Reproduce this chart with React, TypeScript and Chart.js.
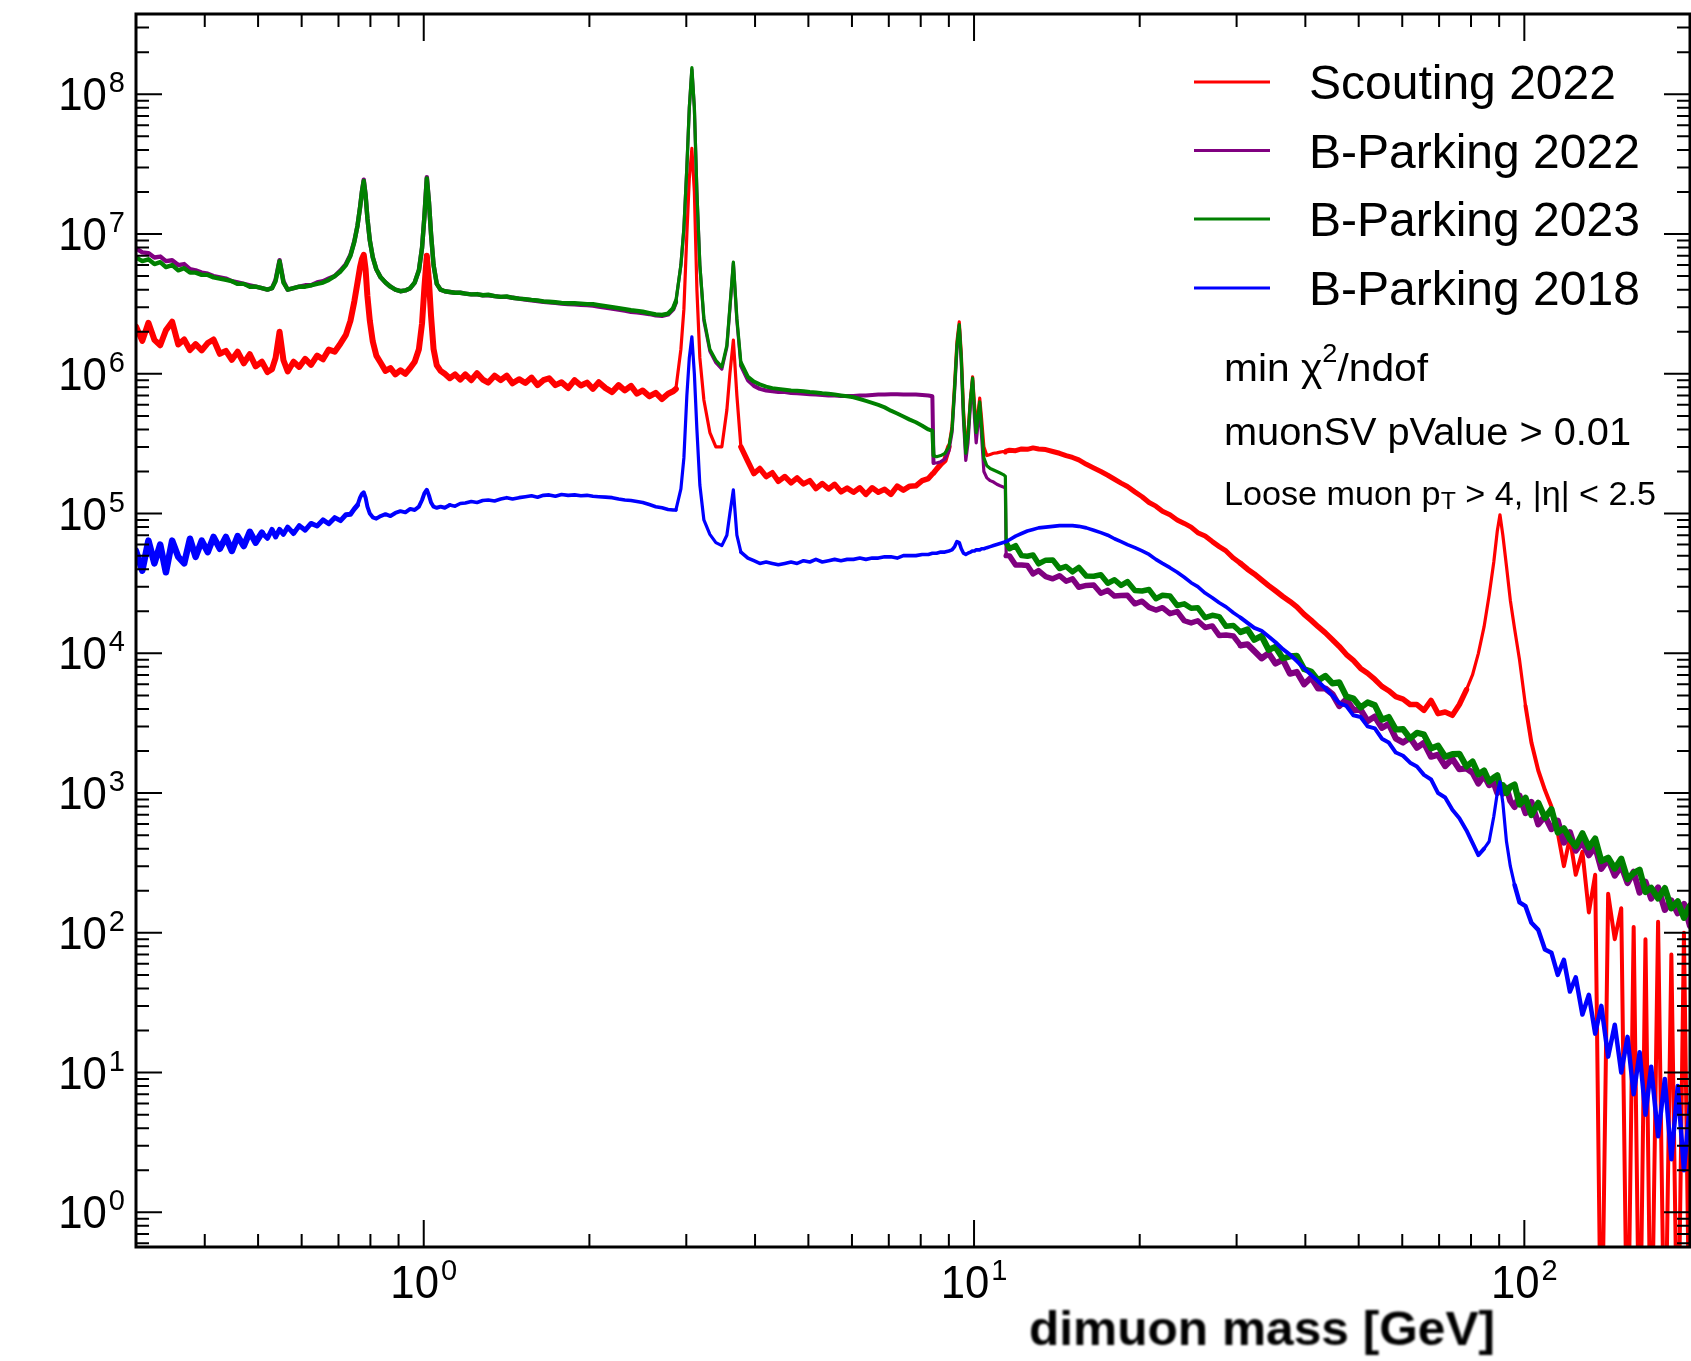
import { useEffect, useRef } from "react";
import { Chart, registerables } from "chart.js";

Chart.register(...registerables);

// ---------------------------------------------------------------------------
// Dimuon invariant-mass spectra (events per bin), shared mass grid in GeV.
// ---------------------------------------------------------------------------
const massGeV = [
  0.300, 0.308, 0.316, 0.324, 0.332, 0.340, 0.349, 0.358, 0.367, 0.376,
  0.385, 0.395, 0.405, 0.415, 0.426, 0.437, 0.448, 0.459, 0.471, 0.483,
  0.495, 0.508, 0.520, 0.530, 0.538, 0.547, 0.556, 0.566, 0.580, 0.594,
  0.609, 0.624, 0.640, 0.656, 0.672, 0.689, 0.706, 0.722, 0.736, 0.748,
  0.758, 0.766, 0.772, 0.778, 0.784, 0.790, 0.798, 0.808, 0.820, 0.835,
  0.852, 0.870, 0.888, 0.907, 0.926, 0.945, 0.963, 0.980, 0.993, 1.003,
  1.013, 1.022, 1.031, 1.042, 1.056, 1.073, 1.092, 1.115, 1.140, 1.165,
  1.19, 1.22, 1.25, 1.28, 1.31, 1.345, 1.38, 1.415, 1.45, 1.49,
  1.53, 1.57, 1.61, 1.65, 1.69, 1.735, 1.78, 1.83, 1.88, 1.93,
  1.98, 2.03, 2.08, 2.14, 2.2, 2.26, 2.32, 2.38, 2.44, 2.5,
  2.57, 2.64, 2.71, 2.78, 2.84, 2.872, 2.933, 2.97, 3.007, 3.038,
  3.071, 3.103, 3.136, 3.175, 3.229, 3.311, 3.395, 3.481, 3.555, 3.6,
  3.653, 3.707, 3.77, 3.882, 3.98, 4.08, 4.19, 4.3, 4.41, 4.53,
  4.65, 4.77, 4.9, 5.03, 5.16, 5.3, 5.44, 5.58, 5.73, 5.88,
  6.04, 6.2, 6.36, 6.53, 6.7, 6.88, 7.06, 7.25, 7.44, 7.64,
  7.84, 8.05, 8.26, 8.4, 8.44, 8.55, 8.7, 8.85, 9.0, 9.12,
  9.22, 9.31, 9.4, 9.48, 9.57, 9.66, 9.75, 9.85, 9.94, 10.02,
  10.09, 10.17, 10.24, 10.32, 10.42, 10.55, 10.7, 10.85, 11.0, 11.15,
  11.3, 11.4, 11.44, 11.6, 11.9, 12.2, 12.5, 12.8, 13.1, 13.5,
  13.9, 14.3, 14.7, 15.1, 15.5, 16.0, 16.5, 17.0, 17.5, 18.0,
  18.5, 19.0, 19.6, 20.2, 20.8, 21.4, 22.0, 22.7, 23.4, 24.1,
  24.8, 25.5, 26.3, 27.1, 27.9, 28.7, 29.6, 30.5, 31.4, 32.3,
  33.3, 34.3, 35.3, 36.4, 37.5, 38.6, 39.8, 41.0, 42.2, 43.5,
  44.8, 46.1, 47.5, 48.9, 50.4, 51.9, 53.5, 55.1, 56.7, 58.4,
  60.2, 62.0, 63.8, 65.7, 67.7, 69.7, 71.8, 74.0, 76.2, 78.5,
  80.5, 82.5, 84.5, 86.3, 88.0, 89.3, 90.3, 91.4, 92.8, 94.3,
  96.0, 98.0, 100.5, 103.0, 106.0, 109.0, 112.0, 115.0, 118.0, 121.0,
  124.0, 127.5, 131.0, 134.5, 138.0, 142.0, 146.0, 150.0, 154.0, 158.0,
  162, 166, 170, 175, 180, 185, 190, 195, 200,
];

const scouting2022 = [
  2.18e6, 1.72e6, 2.32e6, 1.75e6, 1.6e6, 2.05e6, 2.36e6, 1.62e6, 1.76e6, 1.48e6,
  1.63e6, 1.47e6, 1.66e6, 1.76e6, 1.39e6, 1.46e6, 1.26e6, 1.44e6, 1.19e6, 1.38e6,
  1.13e6, 1.22e6, 1.03e6, 1.08e6, 1.3e6, 2.0e6, 1.25e6, 1.04e6, 1.22e6, 1.12e6,
  1.28e6, 1.16e6, 1.35e6, 1.27e6, 1.49e6, 1.44e6, 1.65e6, 1.9e6, 2.4e6, 3.3e6,
  4.5e6, 5.8e6, 6.6e6, 7.1e6, 5.6e6, 3.6e6, 2.4e6, 1.7e6, 1.35e6, 1.2e6,
  1.05e6, 1.1e6, 9.9e5, 1.06e6, 1.0e6, 1.1e6, 1.22e6, 1.5e6, 2.3e6, 4.2e6,
  7.0e6, 4.6e6, 2.6e6, 1.5e6, 1.15e6, 1.05e6, 1.0e6, 9.3e5, 9.9e5, 9.1e5,
  9.9e5, 9.0e5, 1.01e6, 9.1e5, 8.65e5, 9.7e5, 9.0e5, 9.7e5, 8.55e5, 9.15e5,
  8.6e5, 9.4e5, 8.3e5, 9.0e5, 9.3e5, 8.3e5, 8.7e5, 7.9e5, 9.0e5, 8.25e5,
  8.65e5, 7.8e5, 8.7e5, 7.9e5, 7.4e5, 8.3e5, 7.6e5, 8.2e5, 7.2e5, 7.6e5,
  6.9e5, 7.3e5, 6.6e5, 7.2e5, 7.5e5, 7.8e5, 1.5e6, 2.9e6, 1.0e7, 2.5e7,
  4.1e7, 2.0e7, 4.0e6, 1.3e6, 6.5e5, 3.8e5, 3.0e5, 3.0e5, 5.5e5, 1.0e6,
  1.74e6, 7.0e5, 3.0e5, 2.36e5, 1.93e5, 2.1e5, 1.84e5, 1.96e5, 1.7e5, 1.84e5,
  1.66e5, 1.8e5, 1.63e5, 1.72e5, 1.51e5, 1.64e5, 1.5e5, 1.62e5, 1.43e5, 1.52e5,
  1.42e5, 1.53e5, 1.37e5, 1.53e5, 1.42e5, 1.49e5, 1.37e5, 1.57e5, 1.47e5, 1.57e5,
  1.58e5, 1.72e5, 1.78e5, 1.92e5, 1.95e5, 2.08e5, 2.25e5, 2.4e5, 3.0e5, 4.2e5,
  8.5e5, 1.7e6, 2.35e6, 1.4e6, 5.5e5, 3.0e5, 3.8e5, 6.6e5, 9.5e5, 6.0e5,
  4.2e5, 5.3e5, 6.7e5, 4.8e5, 3.0e5, 2.6e5, 2.65e5, 2.7e5, 2.72e5, 2.75e5,
  2.78e5, 2.76e5, 2.8e5, 2.84e5, 2.82e5, 2.9e5, 2.88e5, 2.95e5, 2.9e5, 2.87e5,
  2.78e5, 2.7e5, 2.6e5, 2.52e5, 2.42e5, 2.25e5, 2.12e5, 2.0e5, 1.88e5, 1.76e5,
  1.65e5, 1.56e5, 1.43e5, 1.32e5, 1.2e5, 1.13e5, 1.04e5, 9.8e4, 9.0e4, 8.5e4,
  8.0e4, 7.3e4, 6.9e4, 6.3e4, 5.8e4, 5.4e4, 4.8e4, 4.4e4, 4.0e4, 3.7e4,
  3.35e4, 3.05e4, 2.8e4, 2.55e4, 2.35e4, 2.15e4, 1.9e4, 1.72e4, 1.55e4, 1.4e4,
  1.25e4, 1.12e4, 9.8e3, 8.9e3, 7.8e3, 7.2e3, 6.5e3, 5.8e3, 5.4e3, 4.9e3,
  4.7e3, 4.3e3, 4.3e3, 3.9e3, 4.6e3, 3.7e3, 3.8e3, 3.6e3, 4.3e3, 5.5e3,
  7.0e3, 1.0e4, 1.55e4, 2.6e4, 4.5e4, 7.5e4, 9.8e4, 7.0e4, 4.2e4, 2.4e4,
  1.5e4, 9.0e3, 4.2e3, 2.3e3, 1.45e3, 1.05e3, 800, 520, 300, 480,
  260, 380, 140, 260, 0, 190, 90, 150, 0, 110,
  0, 90, 0, 120, 0, 70, 0, 100, 0,
];

const bParking2022 = [
  7.9e6, 7.4e6, 7.3e6, 6.8e6, 6.9e6, 6.4e6, 6.5e6, 6.0e6, 6.1e6, 5.6e6,
  5.5e6, 5.3e6, 5.2e6, 5.0e6, 4.9e6, 4.8e6, 4.6e6, 4.5e6, 4.4e6, 4.3e6,
  4.2e6, 4.1e6, 4.0e6, 4.1e6, 4.7e6, 6.5e6, 4.6e6, 4.0e6, 4.1e6, 4.2e6,
  4.3e6, 4.3e6, 4.5e6, 4.6e6, 4.8e6, 5.0e6, 5.5e6, 6.1e6, 7.1e6, 8.9e6,
  1.15e7, 1.55e7, 2.0e7, 2.45e7, 1.9e7, 1.3e7, 9.0e6, 6.8e6, 5.6e6, 4.9e6,
  4.5e6, 4.2e6, 4.0e6, 3.9e6, 3.95e6, 4.1e6, 4.5e6, 5.5e6, 8.0e6, 1.35e7,
  2.55e7, 1.7e7, 1.0e7, 6.0e6, 4.4e6, 4.0e6, 3.9e6, 3.85e6, 3.8e6, 3.8e6,
  3.75e6, 3.7e6, 3.7e6, 3.65e6, 3.65e6, 3.6e6, 3.55e6, 3.55e6, 3.5e6, 3.45e6,
  3.4e6, 3.36e6, 3.32e6, 3.28e6, 3.25e6, 3.22e6, 3.18e6, 3.15e6, 3.14e6, 3.12e6,
  3.1e6, 3.08e6, 3.03e6, 2.98e6, 2.93e6, 2.88e6, 2.83e6, 2.78e6, 2.75e6, 2.72e6,
  2.68e6, 2.62e6, 2.6e6, 2.66e6, 2.9e6, 3.25e6, 6.0e6, 1.1e7, 3.0e7, 8.0e7,
  1.5e8, 8.0e7, 2.0e7, 6.0e6, 2.4e6, 1.45e6, 1.2e6, 1.08e6, 1.55e6, 2.9e6,
  6.2e6, 2.4e6, 1.15e6, 9.0e5, 8.2e5, 7.8e5, 7.6e5, 7.5e5, 7.4e5, 7.4e5,
  7.3e5, 7.25e5, 7.2e5, 7.15e5, 7.1e5, 7.05e5, 7.0e5, 7.0e5, 6.95e5, 6.95e5,
  6.95e5, 7.0e5, 7.0e5, 7.05e5, 7.1e5, 7.1e5, 7.15e5, 7.15e5, 7.1e5, 7.1e5,
  7.1e5, 7.05e5, 7.0e5, 6.9e5, 2.3e5, 2.3e5, 2.35e5, 2.45e5, 2.8e5, 3.8e5,
  7.5e5, 1.5e6, 2.2e6, 1.2e6, 4.6e5, 2.4e5, 3.2e5, 6.0e5, 9.0e5, 4.8e5,
  3.2e5, 4.4e5, 5.8e5, 3.6e5, 2.0e5, 1.8e5, 1.72e5, 1.68e5, 1.62e5, 1.58e5,
  1.55e5, 1.52e5, 5.0e4, 4.98e4, 4.28e4, 4.29e4, 4.25e4, 3.7e4, 3.91e4, 3.54e4,
  3.41e4, 3.59e4, 3.28e4, 3.41e4, 2.97e4, 3.06e4, 3.08e4, 2.69e4, 2.82e4, 2.57e4,
  2.59e4, 2.6e4, 2.26e4, 2.36e4, 2.13e4, 2.04e4, 2.12e4, 1.92e4, 1.99e4, 1.71e4,
  1.65e4, 1.71e4, 1.53e4, 1.57e4, 1.34e4, 1.35e4, 1.33e4, 1.14e4, 1.16e4, 1.04e4,
  9.2e3, 1.0e4, 8.45e3, 9.0e3, 7.15e3, 7.35e3, 6.0e3, 6.7e3, 5.6e3, 5.6e3,
  5.1e3, 4.2e3, 4.7e3, 3.93e3, 3.95e3, 3.27e3, 3.53e3, 2.93e3, 3.13e3, 2.46e3,
  2.3e3, 2.49e3, 2.11e3, 2.29e3, 1.82e3, 1.88e3, 1.56e3, 1.76e3, 1.48e3, 1.5e3,
  1.4e3, 1.17e3, 1.34e3, 1.14e3, 1.18e3, 1.0e3, 1.13e3, 990, 1.09e3, 880,
  796, 958, 720, 864, 598, 684, 552, 633, 442, 524,
  387, 445, 359, 413, 287, 337, 257, 302, 227, 273,
  194, 232, 176, 211, 146, 170, 138, 161, 112,
];

const bParking2023 = [
  6.8e6, 6.4e6, 6.6e6, 6.1e6, 6.3e6, 5.8e6, 6.0e6, 5.5e6, 5.7e6, 5.3e6,
  5.3e6, 5.1e6, 5.1e6, 4.9e6, 4.8e6, 4.7e6, 4.6e6, 4.4e6, 4.4e6, 4.2e6,
  4.2e6, 4.1e6, 4.0e6, 4.1e6, 4.6e6, 6.4e6, 4.5e6, 4.0e6, 4.1e6, 4.2e6,
  4.2e6, 4.3e6, 4.4e6, 4.5e6, 4.7e6, 5.0e6, 5.4e6, 6.0e6, 7.0e6, 8.8e6,
  1.15e7, 1.55e7, 2.0e7, 2.4e7, 1.9e7, 1.3e7, 9.0e6, 6.8e6, 5.6e6, 4.9e6,
  4.5e6, 4.2e6, 4.0e6, 3.9e6, 3.95e6, 4.1e6, 4.5e6, 5.5e6, 8.0e6, 1.35e7,
  2.5e7, 1.7e7, 1.0e7, 6.0e6, 4.4e6, 4.0e6, 3.9e6, 3.85e6, 3.8e6, 3.8e6,
  3.75e6, 3.7e6, 3.72e6, 3.65e6, 3.68e6, 3.6e6, 3.55e6, 3.58e6, 3.5e6, 3.45e6,
  3.42e6, 3.38e6, 3.35e6, 3.3e6, 3.28e6, 3.25e6, 3.22e6, 3.2e6, 3.2e6, 3.18e6,
  3.15e6, 3.15e6, 3.1e6, 3.05e6, 3.0e6, 2.95e6, 2.9e6, 2.85e6, 2.82e6, 2.78e6,
  2.72e6, 2.66e6, 2.64e6, 2.7e6, 2.95e6, 3.3e6, 6.0e6, 1.1e7, 3.0e7, 8.0e7,
  1.55e8, 8.0e7, 2.0e7, 6.0e6, 2.5e6, 1.5e6, 1.25e6, 1.12e6, 1.6e6, 3.0e6,
  6.3e6, 2.5e6, 1.2e6, 9.5e5, 8.8e5, 8.4e5, 8.1e5, 7.9e5, 7.8e5, 7.7e5,
  7.6e5, 7.55e5, 7.5e5, 7.4e5, 7.35e5, 7.25e5, 7.2e5, 7.1e5, 7.0e5, 6.9e5,
  6.8e5, 6.6e5, 6.4e5, 6.2e5, 6.0e5, 5.75e5, 5.45e5, 5.2e5, 4.95e5, 4.7e5,
  4.5e5, 4.25e5, 4.0e5, 3.9e5, 2.6e5, 2.55e5, 2.6e5, 2.7e5, 3.0e5, 4.0e5,
  8.0e5, 1.6e6, 2.25e6, 1.3e6, 5.0e5, 2.7e5, 3.6e5, 6.5e5, 9.3e5, 5.5e5,
  3.8e5, 5.0e5, 6.3e5, 4.2e5, 2.5e5, 2.2e5, 2.1e5, 2.05e5, 2.0e5, 1.95e5,
  1.9e5, 1.85e5, 6.2e4, 5.6e4, 5.9e4, 5.0e4, 4.95e4, 5.05e4, 4.37e4, 4.64e4,
  4.66e4, 4.04e4, 4.18e4, 3.83e4, 4.12e4, 3.57e4, 3.56e4, 3.65e4, 3.17e4, 3.36e4,
  3.06e4, 3.26e4, 2.81e4, 2.79e4, 2.86e4, 2.46e4, 2.6e4, 2.57e4, 2.2e4, 2.26e4,
  2.1e4, 2.12e4, 1.8e4, 1.87e4, 1.83e4, 1.56e4, 1.58e4, 1.42e4, 1.48e4, 1.25e4,
  1.33e4, 1.06e4, 1.11e4, 9.2e3, 9.5e3, 9.6e3, 7.7e3, 7.4e3, 6.4e3, 6.9e3,
  6.1e3, 6.2e3, 4.9e3, 4.75e3, 4.1e3, 4.45e3, 4.25e3, 3.35e3, 3.5e3, 2.85e3,
  2.87e3, 2.46e3, 2.7e3, 2.62e3, 2.09e3, 2.18e3, 1.82e3, 1.9e3, 1.91e3, 1.55e3,
  1.68e3, 1.36e3, 1.45e3, 1.21e3, 1.29e3, 1.34e3, 1.13e3, 1.14e3, 1.0e3, 1.11e3,
  1.15e3, 827, 924, 697, 851, 665, 767, 522, 560, 468,
  417, 515, 409, 472, 326, 345, 288, 339, 242, 268,
  283, 196, 210, 176, 209, 150, 168, 128, 157,
];

const bParking2018 = [
  5.4e4, 3.9e4, 6.4e4, 4.4e4, 6.0e4, 3.8e4, 6.4e4, 4.9e4, 4.4e4, 6.6e4,
  4.9e4, 6.4e4, 5.3e4, 6.8e4, 5.6e4, 6.8e4, 5.4e4, 6.9e4, 5.85e4, 7.4e4,
  6.2e4, 7.3e4, 6.65e4, 7.7e4, 6.8e4, 7.7e4, 7.1e4, 8.0e4, 7.2e4, 8.2e4,
  7.6e4, 8.5e4, 8.15e4, 9.0e4, 8.45e4, 9.35e4, 8.9e4, 9.8e4, 9.9e4, 1.08e5,
  1.15e5, 1.3e5, 1.38e5, 1.42e5, 1.3e5, 1.12e5, 1.0e5, 9.4e4, 9.2e4, 9.6e4,
  9.9e4, 9.6e4, 1.01e5, 1.04e5, 1.02e5, 1.08e5, 1.06e5, 1.12e5, 1.25e5, 1.4e5,
  1.48e5, 1.35e5, 1.2e5, 1.12e5, 1.1e5, 1.12e5, 1.1e5, 1.15e5, 1.13e5, 1.18e5,
  1.19e5, 1.22e5, 1.2e5, 1.24e5, 1.25e5, 1.23e5, 1.27e5, 1.3e5, 1.27e5, 1.3e5,
  1.32e5, 1.34e5, 1.31e5, 1.35e5, 1.36e5, 1.33e5, 1.37e5, 1.35e5, 1.36e5, 1.34e5,
  1.35e5, 1.33e5, 1.32e5, 1.31e5, 1.3e5, 1.27e5, 1.25e5, 1.24e5, 1.22e5, 1.2e5,
  1.16e5, 1.12e5, 1.1e5, 1.07e5, 1.06e5, 1.06e5, 1.5e5, 2.5e5, 7.0e5, 1.3e6,
  1.84e6, 1.0e6, 4.0e5, 1.6e5, 9.0e4, 7.1e4, 6.2e4, 5.9e4, 7.0e4, 1.0e5,
  1.48e5, 7.0e4, 5.3e4, 4.8e4, 4.6e4, 4.4e4, 4.5e4, 4.4e4, 4.3e4, 4.4e4,
  4.5e4, 4.4e4, 4.6e4, 4.5e4, 4.7e4, 4.5e4, 4.6e4, 4.7e4, 4.6e4, 4.7e4,
  4.7e4, 4.8e4, 4.7e4, 4.8e4, 4.8e4, 4.9e4, 4.9e4, 4.8e4, 5.0e4, 5.0e4,
  5.0e4, 5.1e4, 5.1e4, 5.2e4, 5.2e4, 5.2e4, 5.3e4, 5.3e4, 5.4e4, 5.5e4,
  5.8e4, 6.3e4, 6.2e4, 5.6e4, 5.2e4, 5.1e4, 5.2e4, 5.3e4, 5.4e4, 5.4e4,
  5.5e4, 5.5e4, 5.5e4, 5.6e4, 5.6e4, 5.7e4, 5.8e4, 5.9e4, 6.0e4, 6.1e4,
  6.2e4, 6.3e4, 6.3e4, 6.5e4, 6.9e4, 7.2e4, 7.5e4, 7.7e4, 7.9e4, 8.0e4,
  8.1e4, 8.2e4, 8.2e4, 8.2e4, 8.1e4, 7.9e4, 7.6e4, 7.3e4, 7.0e4, 6.6e4,
  6.3e4, 6.0e4, 5.7e4, 5.4e4, 5.1e4, 4.7e4, 4.4e4, 4.1e4, 3.8e4, 3.5e4,
  3.2e4, 3.0e4, 2.7e4, 2.5e4, 2.3e4, 2.15e4, 1.95e4, 1.8e4, 1.65e4, 1.52e4,
  1.45e4, 1.32e4, 1.2e4, 1.07e4, 9.8e3, 8.8e3, 7.8e3, 7.0e3, 6.3e3, 5.6e3,
  5.0e3, 4.4e3, 4.2e3, 3.6e3, 3.5e3, 3.0e3, 2.9e3, 2.45e3, 2.3e3, 1.95e3,
  1.85e3, 1.65e3, 1.55e3, 1.35e3, 1.25e3, 1.0e3, 930, 760, 660, 540,
  440, 360, 400, 450, 680, 1.0e3, 1.2e3, 850, 450, 300,
  220, 165, 155, 118, 105, 76, 72, 50, 64, 38,
  48, 26, 36, 19, 30, 13, 22, 10, 18, 7,
  14, 5, 11, 3.5, 9, 2.4, 8, 2, 6,
];

const seriesLabels = ["Scouting 2022", "B-Parking 2022", "B-Parking 2023", "B-Parking 2018"];
const seriesCounts = [scouting2022, bParking2022, bParking2023, bParking2018];
const seriesColors = ["#ff0000", "#800080", "#008000", "#0000ff"];

// Axis ranges and tick marks
const massRange = [0.3, 200];
const countRange = [0.5647, 3.755e8];
const xMajorTicks = [1, 10, 100];
const xMinorTicks = [0.4, 0.5, 0.6, 0.7, 0.8, 0.9, 2, 3, 4, 5, 6, 7, 8, 9, 20, 30, 40, 50, 60, 70, 80, 90];
const yMajorExponents = [0, 1, 2, 3, 4, 5, 6, 7, 8];

const xAxisTitle = "dimuon mass [GeV]";

// ---------------------------------------------------------------------------
const W = 1691;
const H = 1361;
const FONT = '"Liberation Sans", Arial, Helvetica, sans-serif';

// Stroke width per mass range [from GeV, px]: fine-binned, fluctuating stretches are drawn heavier.
const strokeBands: [number, number][][] = [
  [[0.3, 6], [2.85, 3.2], [3.75, 5.5], [8.9, 3.2], [11.4, 5], [30, 5.5], [78, 3.2], [100, 4]],
  [[0.3, 4.4], [2.85, 3.2], [3.75, 4], [8.43, 3.2], [11.42, 5.5], [30, 6.2]],
  [[0.3, 4.4], [2.85, 3.2], [3.75, 4], [8.43, 3.2], [11.42, 5.5], [30, 6.2]],
  [[0.3, 6.5], [0.5, 5], [0.75, 4], [1.1, 3.6], [2.85, 3.2], [3.75, 3.6], [30, 4], [84, 3.2], [96, 4.5]],
];

function strokeAt(series: number, mass: number) {
  let w = 3.2;
  for (const [from, width] of strokeBands[series]) if (mass >= from) w = width;
  return w;
}

// Empty bins are taken down past the bottom of the frame, as in a log-scale histogram.
const emptyBinFloor = countRange[0] / 10;

type Seg = { text: string; scale?: number; shift?: number };

function drawRich(
  ctx: CanvasRenderingContext2D,
  segs: Seg[],
  x: number,
  baseline: number,
  size: number,
  width: number,
  weight = "",
  align: "left" | "center" = "left",
) {
  const fontFor = (s: Seg) => `${weight} ${Math.round(size * (s.scale ?? 1))}px ${FONT}`.trim();
  let natural = 0;
  for (const s of segs) {
    ctx.font = fontFor(s);
    natural += ctx.measureText(s.text).width;
  }
  const sx = width > 0 ? width / natural : 1;
  const left = align === "center" ? x - (natural * sx) / 2 : x;
  ctx.save();
  ctx.translate(left, baseline);
  ctx.scale(sx, 1);
  ctx.textAlign = "left";
  ctx.textBaseline = "alphabetic";
  let cx = 0;
  for (const s of segs) {
    ctx.font = fontFor(s);
    ctx.fillText(s.text, cx, s.shift ?? 0);
    cx += ctx.measureText(s.text).width;
  }
  ctx.restore();
}

// "10" with a raised exponent
function drawPowerLabel(
  ctx: CanvasRenderingContext2D,
  exp: number,
  anchorX: number,
  baseline: number,
  anchor: "right" | "center",
) {
  const baseSize = 46;
  const baseScale = 0.95;
  const expSize = 29;
  ctx.save();
  ctx.textAlign = "left";
  ctx.textBaseline = "alphabetic";
  ctx.font = `${baseSize}px ${FONT}`;
  const bw = ctx.measureText("10").width * baseScale;
  ctx.font = `${expSize}px ${FONT}`;
  const ew = ctx.measureText(String(exp)).width;
  const gap = 2;
  const total = bw + gap + ew;
  const left = anchor === "right" ? anchorX - total : anchorX - total / 2;
  ctx.save();
  ctx.translate(left, baseline);
  ctx.scale(baseScale, 1);
  ctx.font = `${baseSize}px ${FONT}`;
  ctx.fillText("10", 0, 0);
  ctx.restore();
  ctx.font = `${expSize}px ${FONT}`;
  ctx.fillText(String(exp), left + bw + gap, baseline - 18);
  ctx.restore();
}

const rootFrame = {
  id: "rootFrame",
  beforeDraw(chart: Chart) {
    const { ctx } = chart;
    ctx.save();
    ctx.fillStyle = "#ffffff";
    ctx.fillRect(0, 0, chart.width, chart.height);
    ctx.restore();
  },
  afterDraw(chart: Chart) {
    const { ctx, chartArea: a } = chart;
    const xs = chart.scales.x;
    const ys = chart.scales.y;
    ctx.save();
    ctx.strokeStyle = "#000";
    ctx.fillStyle = "#000";
    ctx.lineCap = "butt";

    // tick marks on all four sides, pointing inwards
    ctx.lineWidth = 2;
    const xTick = (v: number, len: number) => {
      const px = xs.getPixelForValue(v);
      ctx.beginPath();
      ctx.moveTo(px, a.bottom);
      ctx.lineTo(px, a.bottom - len);
      ctx.moveTo(px, a.top);
      ctx.lineTo(px, a.top + len);
      ctx.stroke();
    };
    const yTick = (v: number, len: number) => {
      const py = ys.getPixelForValue(v);
      ctx.beginPath();
      ctx.moveTo(a.left, py);
      ctx.lineTo(a.left + len, py);
      ctx.moveTo(a.right, py);
      ctx.lineTo(a.right - len, py);
      ctx.stroke();
    };
    xMajorTicks.forEach((v) => xTick(v, 27));
    xMinorTicks.forEach((v) => xTick(v, 13));
    for (let e = -1; e <= 8; e++) {
      const decade = Math.pow(10, e);
      if (e >= 0) yTick(decade, 26);
      for (let k = 2; k <= 9; k++) {
        const v = k * decade;
        if (v > countRange[0] && v < countRange[1]) yTick(v, 13);
      }
    }

    // frame
    ctx.lineWidth = 3;
    ctx.strokeRect(a.left, a.top, a.right - a.left, a.bottom - a.top);

    // tick labels
    yMajorExponents.forEach((e) => {
      const py = ys.getPixelForValue(Math.pow(10, e));
      drawPowerLabel(ctx, e, 125, py + 16, "right");
    });
    xMajorTicks.forEach((v) => {
      const px = xs.getPixelForValue(v);
      drawPowerLabel(ctx, Math.round(Math.log10(v)), px, 1298, "center");
    });

    // legend
    const rows = [82, 150.5, 219, 288];
    seriesLabels.forEach((label, i) => {
      ctx.strokeStyle = seriesColors[i];
      ctx.lineWidth = 3;
      ctx.beginPath();
      ctx.moveTo(1194, rows[i]);
      ctx.lineTo(1270, rows[i]);
      ctx.stroke();
      ctx.fillStyle = "#000";
      ctx.font = `48px ${FONT}`;
      ctx.textAlign = "left";
      ctx.textBaseline = "alphabetic";
      ctx.fillText(label, 1309, rows[i] + 17);
    });

    // selection notes
    ctx.fillStyle = "#000";
    drawRich(ctx, [{ text: "min χ" }, { text: "2", scale: 0.67, shift: -19 }, { text: "/ndof" }], 1224, 381, 39, 204);
    drawRich(ctx, [{ text: "muonSV pValue > 0.01" }], 1224, 445, 38, 407);
    drawRich(
      ctx,
      [{ text: "Loose muon p" }, { text: "T", scale: 0.72, shift: 4 }, { text: " > 4, |η| < 2.5" }],
      1224,
      505,
      33,
      432,
    );

    // x-axis title
    ctx.save();
    ctx.filter = "blur(1.1px)";
    drawRich(ctx, [{ text: xAxisTitle }], 1262, 1345, 49, 466, "bold", "center");
    ctx.restore();

    ctx.restore();
  },
};

export default function App() {
  const canvasRef = useRef<HTMLCanvasElement>(null);

  useEffect(() => {
    const canvas = canvasRef.current;
    if (!canvas) return;
    // Scouting drawn first (bottom), B-Parking 2018 last (top)
    const drawOrder = [3, 2, 1, 0];
    const datasets = seriesLabels.map((label, i) => ({
      label,
      data: massGeV.map((m, j) => {
        const n = seriesCounts[i][j];
        return { x: m, y: n > 0 ? n : emptyBinFloor };
      }),
      borderColor: seriesColors[i],
      backgroundColor: seriesColors[i],
      borderWidth: 3.2,
      borderJoinStyle: "round" as const,
      borderCapStyle: "round" as const,
      pointRadius: 0,
      tension: 0,
      fill: false,
      order: drawOrder[i],
      segment: {
        borderWidth: (ctx: any) => strokeAt(i, ctx.p0.parsed.x),
      },
    }));

    const chart = new Chart(canvas, {
      type: "line",
      data: { datasets },
      options: {
        responsive: false,
        devicePixelRatio: 1,
        animation: false,
        events: [],
        layout: { padding: { left: 136, top: 14, right: 1, bottom: 114 } },
        plugins: {
          legend: { display: false },
          tooltip: { enabled: false },
          title: { display: false },
        },
        scales: {
          x: { type: "logarithmic", min: massRange[0], max: massRange[1], display: false, bounds: "data" },
          y: { type: "logarithmic", min: countRange[0], max: countRange[1], display: false, bounds: "data" },
        },
      },
      plugins: [rootFrame],
    });
    return () => chart.destroy();
  }, []);

  return (
    <div style={{ position: "absolute", left: 0, top: 0, width: W, height: H, background: "#fff" }}>
      <canvas ref={canvasRef} width={W} height={H} style={{ display: "block", width: W, height: H }} />
    </div>
  );
}
